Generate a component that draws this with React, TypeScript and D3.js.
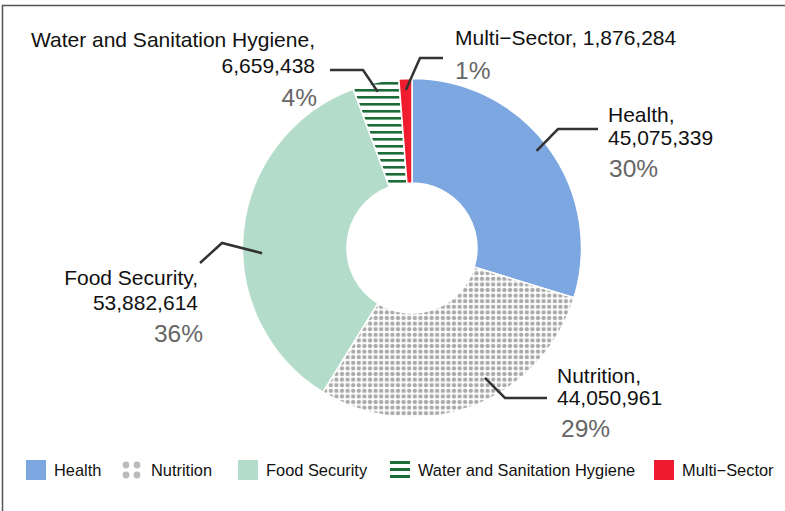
import React from "react";
import * as d3 from "d3";

const categories = ["Health", "Nutrition", "Food Security", "Water and Sanitation Hygiene", "Multi−Sector"];
const values = [45075339, 44050961, 53882614, 6659438, 1876284];
const legendLabels = ["Health", "Nutrition", "Food Security", "Water and Sanitation Hygiene", "Multi−Sector"];

const W = 785, H = 511;
const CX = 412, CY = 248, R_OUT = 169.5, R_IN = 65;
const FONT = "'Liberation Sans', Arial, sans-serif";

const fills = ["#7da7e0", "url(#dots)", "#b4dccb", "url(#stripes)", "#ee1c2e"];

// label layout per slice: leader (angle offset deg, radius), elbow, end; text anchor/positions
const labelLayout = [
  { off: -1.5, r: 158, elbow: [558, 129], end: [598, 129], anchor: "start", x: 608, ys: [122, 145], px: 609, py: 177, oneLine: false },
  { off: -8.7, r: 149, elbow: [505, 398], end: [547, 398], anchor: "start", x: 557, ys: [383, 405], px: 561, py: 437, oneLine: false },
  { off: -7.7, r: 150, elbow: [222, 243], end: [200, 263], anchor: "end", x: 198, ys: [285, 310], px: 203, py: 342, oneLine: false },
  { off: 0, r: 160, elbow: [363, 70], end: [330, 70], anchor: "end", x: 315, ys: [47, 73], px: 317, py: 106, oneLine: false },
  { off: 0, r: 158, elbow: [420, 58], end: [443, 58], anchor: "start", x: 455, ys: [45], px: 455, py: 79, oneLine: true },
];

const legendX = [26, 122, 238, 390, 654];

export default function App() {
  const total = d3.sum(values);
  const pie = d3.pie<number>().sort(null).startAngle(0).endAngle(2 * Math.PI);
  const arcs = pie(values);
  const arc = d3.arc<d3.PieArcDatum<number>>().innerRadius(R_IN).outerRadius(R_OUT);
  const fmt = d3.format(",");

  return (
    <svg width={W} height={H} style={{ position: "absolute", left: 0, top: 0, background: "#fff" }} fontFamily={FONT}>
      <defs>
        <pattern id="dots" patternUnits="userSpaceOnUse" width={5.6} height={5.6}>
          <rect width={5.6} height={5.6} fill="#fff" />
          <circle cx={2.8} cy={2.8} r={2.2} fill="#aaaaaa" />
        </pattern>
        <pattern id="stripes" patternUnits="userSpaceOnUse" width={7} height={7}>
          <rect width={7} height={7} fill="#fff" />
          <rect y={2} width={7} height={2.6} fill="#1d6b38" />
        </pattern>
      </defs>
      <path d={`M2.5,${H} V5.5 H${W}`} fill="none" stroke="#555" strokeWidth={1.5} />
      <g transform={`translate(${CX},${CY})`}>
        {arcs.map((a, i) => (
          <path key={i} d={arc(a) || ""} fill={fills[i]} stroke="#fff" strokeWidth={1.5} />
        ))}
      </g>
      {arcs.map((a, i) => {
        const L = labelLayout[i];
        const mid = (a.startAngle + a.endAngle) / 2 + (L.off * Math.PI) / 180;
        const sx = CX + L.r * Math.sin(mid);
        const sy = CY - L.r * Math.cos(mid);
        const pct = Math.round((values[i] / total) * 100) + "%";
        const lines = L.oneLine
          ? [`${categories[i]}, ${fmt(values[i])}`]
          : [`${categories[i]},`, fmt(values[i])];
        return (
          <g key={i}>
            <polyline
              points={`${sx},${sy} ${L.elbow[0]},${L.elbow[1]} ${L.end[0]},${L.end[1]}`}
              fill="none"
              stroke="#333"
              strokeWidth={2.5}
            />
            {lines.map((t, j) => (
              <text key={j} x={L.x} y={L.ys[j]} textAnchor={L.anchor} fontSize={21} fill="#111">
                {t}
              </text>
            ))}
            <text x={L.px} y={L.py} textAnchor={L.anchor} fontSize={24.5} fill="#666">
              {pct}
            </text>
          </g>
        );
      })}
      <g>
        {legendLabels.map((lab, i) => {
          const x = legendX[i];
          let icon: React.ReactNode;
          if (i === 1) {
            icon = (
              <g fill="#bbb">
                {[0, 1].map((r) =>
                  [0, 1].map((c) => <circle key={`${r}${c}`} cx={x + 4 + c * 11} cy={465 + r * 10} r={3.4} />)
                )}
              </g>
            );
          } else if (i === 3) {
            icon = (
              <g fill="#1d6b38">
                {[0, 1, 2].map((k) => <rect key={k} x={x} y={461 + k * 7} width={20} height={3} />)}
              </g>
            );
          } else {
            icon = <rect x={x} y={460} width={20} height={20} fill={fills[i]} />;
          }
          return (
            <g key={i}>
              {icon}
              <text x={i === 1 ? x + 29 : x + 28} y={476} fontSize={16.4} fill="#111">
                {lab}
              </text>
            </g>
          );
        })}
      </g>
    </svg>
  );
}
